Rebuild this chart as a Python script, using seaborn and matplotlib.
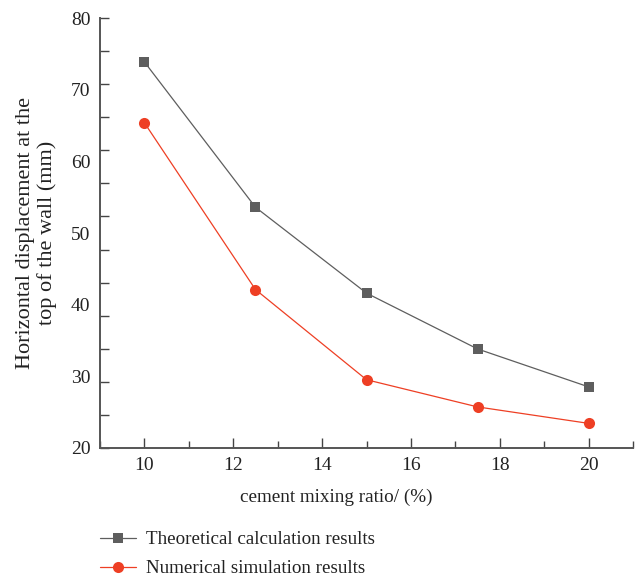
import numpy as np
import pandas as pd
import matplotlib
matplotlib.use("Agg")
import matplotlib.pyplot as plt
import seaborn as sns
from matplotlib.ticker import FixedLocator, NullFormatter
from matplotlib.lines import Line2D

# ---- data ----
cement_ratio = [10, 12.5, 15, 17.5, 20]
theoretical = [73.9, 53.6, 41.6, 33.8, 28.5]
numerical = [65.4, 42.1, 29.5, 25.7, 23.4]
series_names = ["Theoretical calculation results", "Numerical simulation results"]
y_tick_labels = [20, 30, 40, 50, 60, 70, 80]
x_tick_labels = [10, 12, 14, 16, 18, 20]

df = pd.DataFrame({
    "ratio": cement_ratio * 2,
    "disp": theoretical + numerical,
    "series": [series_names[0]] * len(cement_ratio) + [series_names[1]] * len(cement_ratio),
})

sns.set_theme(style="white")
plt.rcParams["font.family"] = ["Liberation Serif", "DejaVu Serif"]

fig = plt.figure(figsize=(6.4, 5.8), dpi=100)
ax = fig.add_axes([100 / 640, 1 - 447.7 / 580, 533 / 640, 429.4 / 580])

gray = "#5e5e5e"
red = "#ee3f24"
sns.lineplot(data=df, x="ratio", y="disp", hue="series", style="series",
             palette={series_names[0]: gray, series_names[1]: red},
             markers={series_names[0]: "s", series_names[1]: "o"},
             dashes=False, linewidth=0.9, markeredgewidth=0,
             ax=ax, legend=False)
for line, ms in zip(ax.lines, [6.8, 8.0]):
    line.set_markersize(ms)

ax.set_xlim(9, 21)
ax.set_ylim(20, 80)

# y: unlabeled tick marks (13 intervals) + labels every 10
ax.yaxis.remove_overlapping_locs = False
ax.yaxis.set_major_locator(FixedLocator(np.linspace(20, 80, 14)))
ax.yaxis.set_major_formatter(NullFormatter())
ax.yaxis.set_minor_locator(FixedLocator(y_tick_labels))
ax.set_yticklabels([str(v) for v in y_tick_labels], minor=True)
ax.tick_params(axis="y", which="major", direction="in", length=6.5, width=1.0,
               color="#444444", left=True)
ax.tick_params(axis="y", which="minor", length=0, pad=7, labelsize=14,
               labelcolor="#222222", left=True)

# x: major ticks labeled, minor ticks shorter
ax.xaxis.set_major_locator(FixedLocator(x_tick_labels))
ax.xaxis.set_minor_locator(FixedLocator([9, 11, 13, 15, 17, 19, 21]))
ax.tick_params(axis="x", which="major", direction="in", length=7, width=1.0,
               color="#444444", pad=6.5, labelsize=14, labelcolor="#222222", bottom=True)
ax.tick_params(axis="x", which="minor", direction="in", length=5, width=1.0,
               color="#444444", bottom=True)

for s in ["top", "right"]:
    ax.spines[s].set_visible(False)
for s in ["left", "bottom"]:
    ax.spines[s].set_color("#555555")
    ax.spines[s].set_linewidth(1.4)

ax.set_xlabel("cement mixing ratio/ (%)", fontsize=13.8, color="#222222")
ax.xaxis.set_label_coords((336 - 100) / 533, -(497 - 447.7) / 429.4)
ax.xaxis.label.set_va("center")
ax.set_ylabel("Horizontal displacement at the\ntop of the wall (mm)", fontsize=16,
              color="#222222", linespacing=1.2)
ax.yaxis.set_label_coords(-(100 - 36.5) / 533, 0.5)
ax.yaxis.label.set_va("center")

handles = [
    Line2D([], [], color=gray, marker="s", markersize=6.8, markeredgewidth=0, linewidth=0.9),
    Line2D([], [], color=red, marker="o", markersize=8.0, markeredgewidth=0, linewidth=0.9),
]
fig.legend(handles, series_names, loc="upper left",
           bbox_to_anchor=(100 / 640, 1 - 531 / 580), frameon=False,
           fontsize=13.7, handlelength=1.9, handletextpad=0.5,
           labelspacing=0.62, borderpad=0, borderaxespad=0,
           labelcolor="#222222")

fig.savefig("out.png", dpi=100)
